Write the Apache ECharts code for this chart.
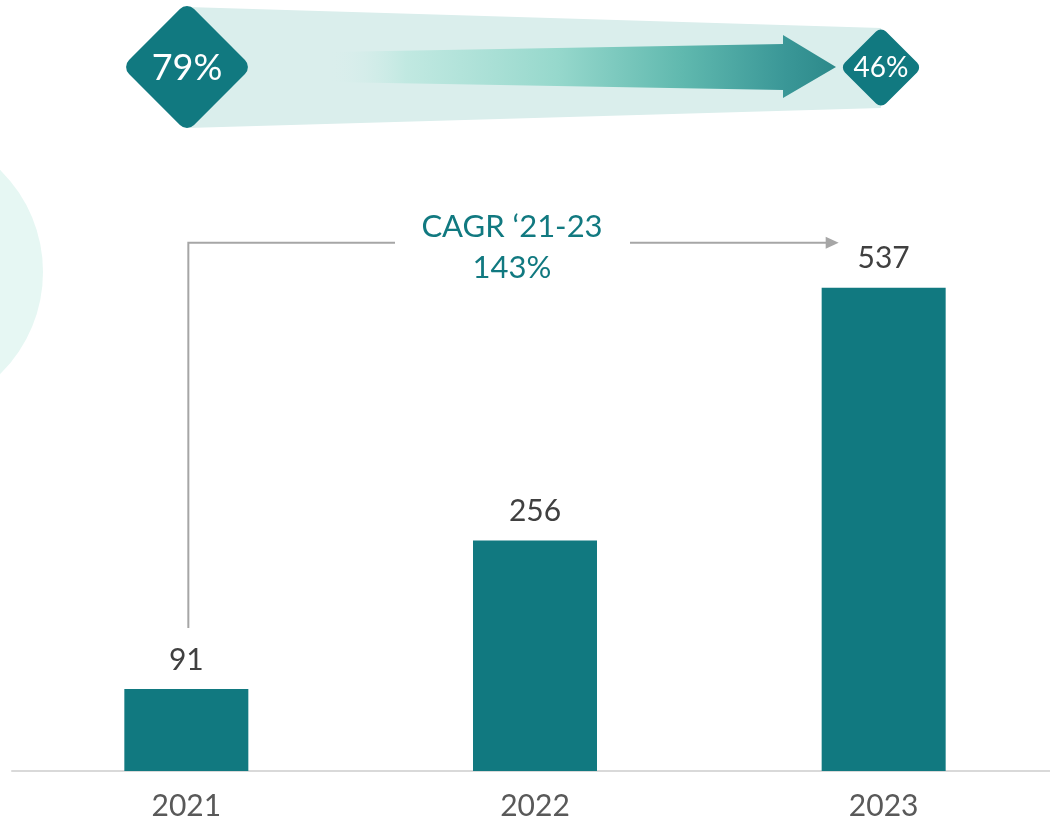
<!DOCTYPE html>
<html>
<head>
<meta charset="utf-8">
<script src="https://cdn.jsdelivr.net/npm/echarts@6/dist/echarts.min.js"></script>
<style>
html,body{margin:0;padding:0;background:#fff;overflow:hidden;width:1050px;height:828px;}
#chart{width:1060px;height:828px;}
</style>
</head>
<body>
<div id="chart"></div>
<script>
// ---- data ----
var categories = ['2021', '2022', '2023'];
var values = [91, 256, 537];
var cagrLabel = ['CAGR \u201821-23', '143%'];
var shareStart = '79%';
var shareEnd = '46%';

var TEAL = '#117980';
var FONT = 'Lato, "Open Sans", sans-serif';

var chart = echarts.init(document.getElementById('chart'), null, {renderer: 'canvas'});

var option = {
  backgroundColor: '#ffffff',
  animation: false,
  grid: {left: 12, right: 2, top: 231, bottom: 57, containLabel: false},
  xAxis: {
    type: 'category',
    data: categories,
    axisLine: {lineStyle: {color: '#d9d9d9', width: 2}},
    axisTick: {show: false},
    axisLabel: {color: '#595959', fontSize: 30, fontFamily: FONT, margin: 20}
  },
  yAxis: {
    type: 'value', min: 0, max: 600,
    show: false, splitLine: {show: false}
  },
  series: [{
    type: 'bar',
    data: values,
    barWidth: 124,
    itemStyle: {color: TEAL},
    label: {
      show: true, position: 'top', distance: 14,
      color: '#404040', fontSize: 30, fontFamily: FONT
    }
  }]
};
chart.setOption(option);

// decorations derived from the chart's scales
var p0 = chart.convertToPixel({seriesIndex: 0}, [0, values[0]]);
var p2 = chart.convertToPixel({seriesIndex: 0}, [2, values[2]]);
var bracketY = p2[1] - 45;
var bracketX0 = p0[0] + 2;
var bracketBottom = p0[1] - 61;
var arrowTipX = p2[0] - 45;
var textCx = 512;

var gradient = new echarts.graphic.LinearGradient(0, 0, 1, 0, [
  {offset: 0, color: 'rgba(217,238,236,0)'},
  {offset: 0.15, color: 'rgba(190,232,224,0.9)'},
  {offset: 0.45, color: '#96d8cc'},
  {offset: 0.7, color: '#5fb8ae'},
  {offset: 0.9, color: '#3a9797'},
  {offset: 1, color: '#2c898a'}
]);

chart.setOption({
  graphic: [
    // background circle on the left
    {type: 'circle', shape: {cx: -100, cy: 272, r: 143}, style: {fill: '#e6f7f3'}, z: 0, silent: true},
    // light trapezoid between the diamonds
    {type: 'polygon', shape: {points: [[187, 7], [881, 28], [881, 108], [187, 128]]},
      style: {fill: '#daeeec'}, z: 1, silent: true},
    // gradient arrow
    {type: 'polygon', shape: {points: [[330, 52], [783, 44], [783, 35], [836, 67], [783, 98], [783, 90], [330, 82]]},
      style: {fill: gradient}, z: 2, silent: true},
    // left diamond
    {type: 'rect', x: 187, y: 67, rotation: Math.PI / 4,
      shape: {x: -46, y: -46, width: 92, height: 92, r: 10},
      style: {fill: TEAL}, z: 3, silent: true},
    {type: 'text', x: 187, y: 68, z: 4, silent: true,
      style: {text: shareStart, fill: '#ffffff', font: '36px ' + FONT, align: 'center', verticalAlign: 'middle'}},
    // right diamond
    {type: 'rect', x: 881, y: 67.5, rotation: Math.PI / 4,
      shape: {x: -29, y: -29, width: 58, height: 58, r: 7},
      style: {fill: TEAL}, z: 3, silent: true},
    {type: 'text', x: 881, y: 68, z: 4, silent: true,
      style: {text: shareEnd, fill: '#ffffff', font: '28px ' + FONT, align: 'center', verticalAlign: 'middle'}},
    // CAGR bracket
    {type: 'polyline', shape: {points: [[bracketX0, bracketBottom], [bracketX0, bracketY], [395, bracketY]]},
      style: {stroke: '#a6a6a6', lineWidth: 2, fill: null}, z: 5, silent: true},
    {type: 'line', shape: {x1: 630, y1: bracketY, x2: arrowTipX - 12, y2: bracketY},
      style: {stroke: '#a6a6a6', lineWidth: 2}, z: 5, silent: true},
    {type: 'polygon', shape: {points: [[arrowTipX - 13, bracketY - 6], [arrowTipX, bracketY], [arrowTipX - 13, bracketY + 6]]},
      style: {fill: '#a6a6a6'}, z: 5, silent: true},
    {type: 'text', x: textCx, y: bracketY - 16, z: 5, silent: true,
      style: {text: cagrLabel[0], fill: TEAL, font: '31px ' + FONT, align: 'center', verticalAlign: 'middle'}},
    {type: 'text', x: textCx, y: bracketY + 25, z: 5, silent: true,
      style: {text: cagrLabel[1], fill: TEAL, font: '31px ' + FONT, align: 'center', verticalAlign: 'middle'}}
  ]
});
</script>
</body>
</html>
